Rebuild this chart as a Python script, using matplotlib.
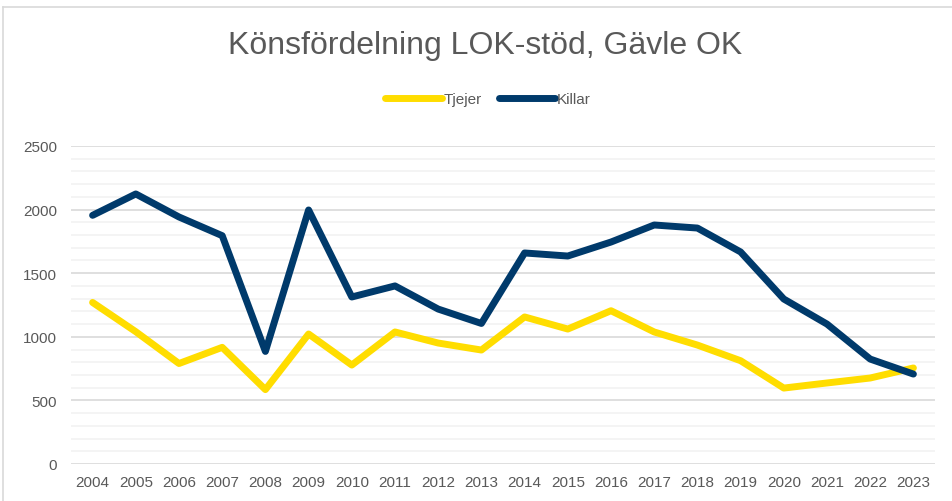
import matplotlib
matplotlib.use("Agg")
import matplotlib.pyplot as plt
from matplotlib.lines import Line2D
import numpy as np

# data
years = [str(y) for y in range(2004, 2024)]
tjejer = [1270, 1040, 790, 917, 585, 1022, 778, 1038, 951, 896,
          1156, 1061, 1205, 1038, 935, 812, 597, 637, 676, 755]
killar = [1955, 2123, 1942, 1795, 885, 1997, 1313, 1400, 1218, 1105,
          1659, 1635, 1745, 1879, 1855, 1667, 1297, 1100, 825, 707]

plt.rcParams['font.family'] = ['Liberation Sans', 'DejaVu Sans']
grey = '#595959'

fig = plt.figure(figsize=(9.53, 5.02), dpi=100)
ax = fig.add_axes([71 / 953, 1 - 465 / 502, 864 / 953, 318 / 502])

x = np.arange(len(years))
ax.plot(x, tjejer, color='#FFDD00', lw=5, label='Tjejer', solid_joinstyle='round', solid_capstyle='round', zorder=3)
ax.plot(x, killar, color='#003A6B', lw=5, label='Killar', solid_joinstyle='round', solid_capstyle='round', zorder=4)

ax.set_xlim(-0.5, len(years) - 0.5)
ax.set_ylim(0, 2500)
ax.set_yticks(range(0, 2501, 500))
ax.set_yticks(range(0, 2501, 100), minor=True)
ax.set_xticks(x)
ax.set_xticklabels(years)
ax.grid(axis='y', which='major', color='#D9D9D9', lw=1.2)
ax.grid(axis='y', which='minor', color='#F2F2F2', lw=1.2)
ax.set_axisbelow(True)
for s in ax.spines.values():
    s.set_visible(False)
ax.tick_params(which='both', length=0, colors=grey, labelsize=11)
ax.tick_params(axis='y', pad=10)
ax.tick_params(axis='x', pad=8)

fig.text(0.509, 1 - 46 / 502, 'Könsfördelning LOK-stöd, Gävle OK', ha='center', va='center',
         fontsize=23, color=grey)
leg = fig.legend(loc='center', bbox_to_anchor=(0.512, 1 - 100 / 502), ncol=2, frameon=False,
                 fontsize=11, handlelength=3.7, handletextpad=0.1, columnspacing=1.1)
for t in leg.get_texts():
    t.set_color(grey)

# chart border
fig.add_artist(Line2D([3.5 / 953, 1], [1 - 7.5 / 502] * 2, color='#D9D9D9', lw=1.2, transform=fig.transFigure))
fig.add_artist(Line2D([3.5 / 953] * 2, [0, 1 - 7.5 / 502], color='#D9D9D9', lw=1.2, transform=fig.transFigure))

fig.savefig('out.png', dpi=100)
